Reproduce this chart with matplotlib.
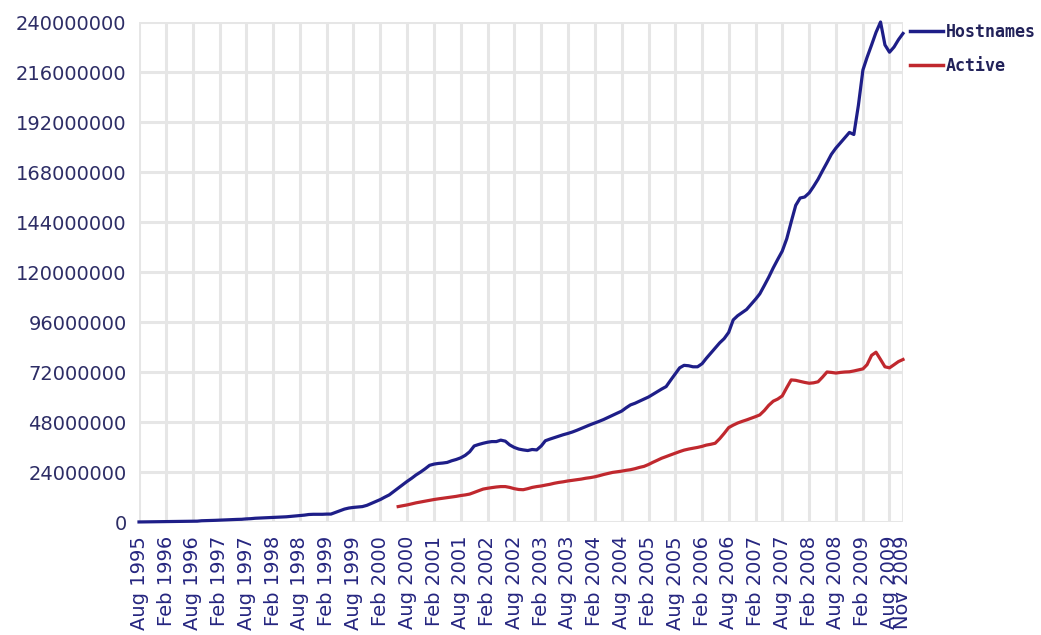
import matplotlib
matplotlib.use("Agg")
import matplotlib.pyplot as plt
import pandas as pd
import numpy as np
from matplotlib.lines import Line2D

# ---- data (millions of hostnames, monthly from Aug 1995) ----
start_month = "1995-08"
hostnames_m = [
    0.02, 0.05, 0.07, 0.1, 0.12, 0.15, 0.18, 0.2, 0.22, 0.25, 0.28, 0.3,
    0.34, 0.4, 0.6, 0.65, 0.7, 0.8, 0.9, 1.0, 1.1, 1.2, 1.25, 1.3,
    1.5, 1.6, 1.8, 1.9, 2.0, 2.1, 2.2, 2.3, 2.4, 2.5, 2.7, 2.9,
    3.1, 3.3, 3.6, 3.7, 3.7, 3.7, 3.8, 3.8, 4.6, 5.4, 6.2, 6.7,
    7.0, 7.2, 7.4, 8.0, 8.9, 9.8, 10.8, 11.9, 13.0, 14.6, 16.3, 17.9,
    19.5, 21.0, 22.6, 24.0, 25.5, 27.2, 27.8, 28.1, 28.3, 28.6, 29.4, 30.0,
    30.8, 32.0, 33.7, 36.5, 37.2, 37.8, 38.3, 38.6, 38.6, 39.3, 38.8, 37.0,
    35.8, 35.0, 34.6, 34.3, 34.8, 34.6, 36.5, 39.0, 39.8, 40.5, 41.2, 41.9,
    42.5, 43.2, 44.0, 44.9, 45.8, 46.7, 47.5, 48.3, 49.2, 50.2, 51.2, 52.2,
    53.2, 54.8, 56.2, 57.0, 58.0, 59.0, 60.0, 61.2, 62.5, 63.8, 65.0, 68.0,
    71.0, 74.0, 75.2, 75.0, 74.5, 74.5, 76.0, 78.5, 81.0, 83.5, 86.0, 88.0,
    91.0, 97.0, 99.0, 100.5, 102.0, 104.5, 107.0, 109.5, 113.5, 117.5, 122.0, 126.0,
    130.0, 136.0, 144.0, 152.0, 155.5, 156.0, 158.0, 161.0, 164.5, 168.5, 172.5, 176.5,
    179.5, 182.0, 184.5, 187.0, 186.0, 200.0, 217.0, 223.0, 229.0, 235.0, 240.0, 229.0,
    225.5, 228.0, 231.5, 234.5,
]

active_start = "2000-06"
active_m = [
    7.4, 7.8, 8.2, 8.7, 9.2, 9.6, 10.0, 10.4, 10.8, 11.1, 11.4, 11.7,
    12.0, 12.3, 12.7, 13.0, 13.4, 14.2, 15.0, 15.8, 16.2, 16.5, 16.8, 17.0,
    17.0, 16.6, 16.0, 15.6, 15.5, 16.0, 16.6, 17.0, 17.3, 17.7, 18.1, 18.6,
    19.0, 19.3, 19.7, 20.0, 20.3, 20.6, 21.0, 21.3, 21.7, 22.2, 22.8, 23.3,
    23.8, 24.1, 24.4, 24.8, 25.1, 25.6, 26.2, 26.7, 27.6, 28.6, 29.6, 30.6,
    31.4, 32.2, 33.0, 33.8, 34.5, 35.0, 35.4, 35.8, 36.3, 36.9, 37.3, 37.8,
    40.0, 42.5, 45.3, 46.5, 47.5, 48.3, 49.0, 49.8, 50.6, 51.4, 53.5, 56.0,
    58.0, 59.0, 60.5, 64.5, 68.2, 68.0, 67.5, 67.0, 66.6, 66.8, 67.3, 69.5,
    72.0, 71.8, 71.5, 71.8, 72.0, 72.1, 72.5, 73.0, 73.5, 75.5, 80.0, 81.5,
    78.0, 74.5, 74.0, 75.5, 77.0, 78.0,
]

tick_labels = [
    "Aug 1995", "Feb 1996", "Aug 1996", "Feb 1997", "Aug 1997", "Feb 1998",
    "Aug 1998", "Feb 1999", "Aug 1999", "Feb 2000", "Aug 2000", "Feb 2001",
    "Aug 2001", "Feb 2002", "Aug 2002", "Feb 2003", "Aug 2003", "Feb 2004",
    "Aug 2004", "Feb 2005", "Aug 2005", "Feb 2006", "Aug 2006", "Feb 2007",
    "Aug 2007", "Feb 2008", "Aug 2008", "Feb 2009", "Aug 2009", "Nov 2009",
]
y_ticks = [0, 24000000, 48000000, 72000000, 96000000, 120000000,
           144000000, 168000000, 192000000, 216000000, 240000000]
series_names = ["Hostnames", "Active"]

# ---- build ----
host_dates = pd.date_range(start_month, periods=len(hostnames_m), freq="MS")
act_dates = pd.date_range(active_start, periods=len(active_m), freq="MS")
host_vals = np.array(hostnames_m) * 1e6
act_vals = np.array(active_m) * 1e6
tick_pos = pd.to_datetime(tick_labels, format="%b %Y")

blue = "#1e1e88"
red = "#c0282e"

fig = plt.figure(figsize=(10.41, 6.35), dpi=100)
fig.patch.set_facecolor("white")
ax = fig.add_axes([139 / 1041, 1 - 522 / 635, 764 / 1041, 500 / 635])

ax.plot(host_dates, host_vals, color=blue, lw=2.3, clip_on=False, zorder=3)
ax.plot(act_dates, act_vals, color=red, lw=2.3, clip_on=False, zorder=3)

ax.set_xlim(tick_pos[0], tick_pos[-1])
ax.set_ylim(0, 240000000)

ax.set_xticks(tick_pos)
ax.set_xticklabels(tick_labels, rotation=90, fontsize=14, color="#262680",
                   family="DejaVu Sans")
ax.set_yticks(y_ticks)
ax.set_yticklabels([str(v) for v in y_ticks], fontsize=14, color="#2d2d66",
                   family="DejaVu Sans")
ax.tick_params(axis="both", length=0)
ax.tick_params(axis="y", pad=9)
ax.tick_params(axis="x", pad=10)

for s in ax.spines.values():
    s.set_visible(False)
ax.grid(True, color="#e6e6e6", lw=2.2, zorder=0)
ax.set_axisbelow(True)

handles = [Line2D([0], [0], color=blue, lw=2.5), Line2D([0], [0], color=red, lw=2.5)]
leg = fig.legend(handles, series_names, loc="upper left",
                 bbox_to_anchor=(910 / 1041, 1 - 23 / 635), frameon=False,
                 prop={"family": "DejaVu Sans Mono", "weight": "bold", "size": 12},
                 handlelength=1.95, handletextpad=0.2, labelspacing=0.95,
                 borderaxespad=0, borderpad=0)
for t in leg.get_texts():
    t.set_color("#22225a")

fig.savefig("out.png", dpi=100, facecolor="white")
